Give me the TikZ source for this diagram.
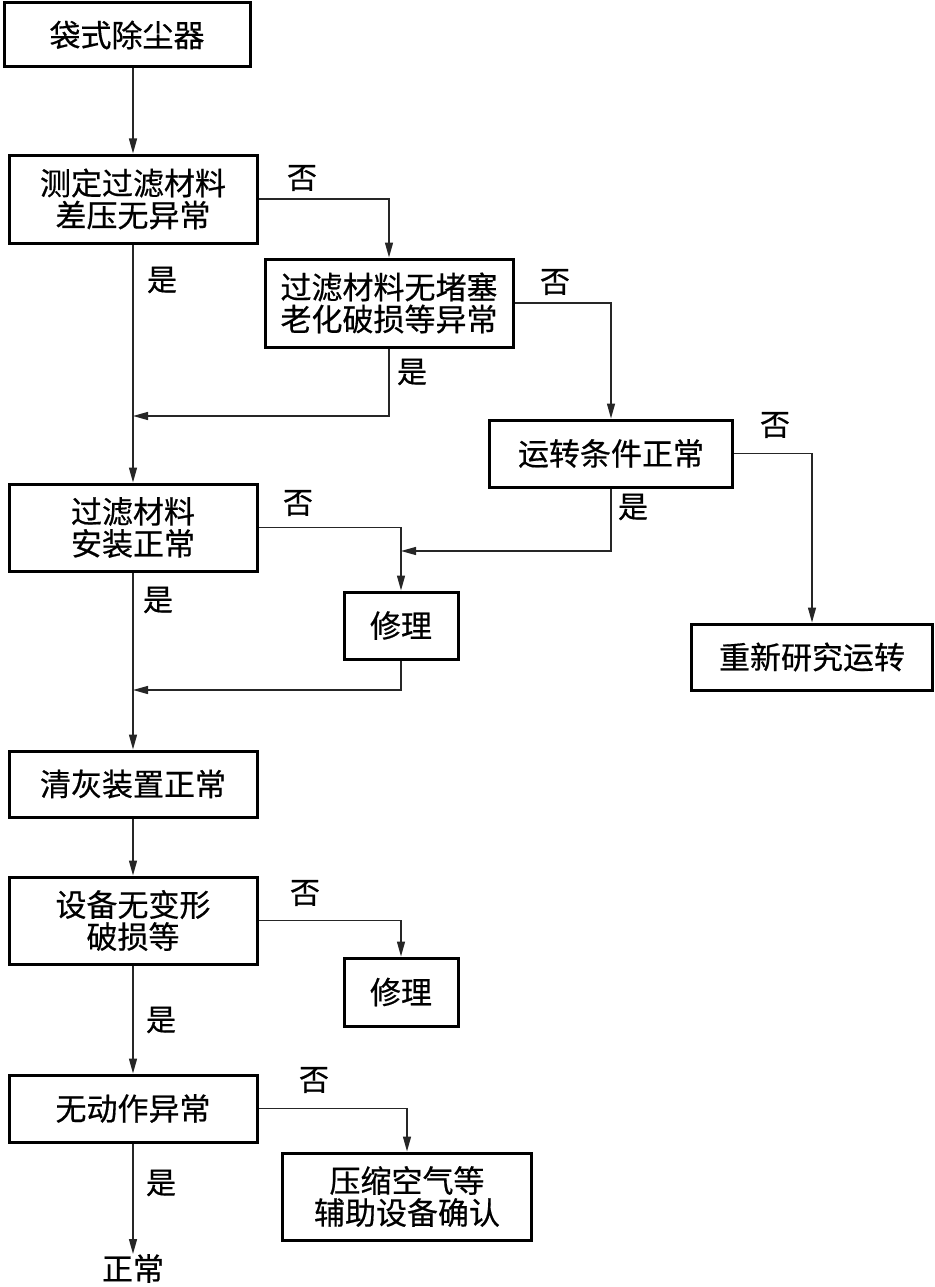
\documentclass[tikz,border=0pt]{standalone}
\usepackage{fontspec}
\newfontfamily\cjk[FakeBold=0.5]{Noto Sans CJK SC}
\usetikzlibrary{arrows.meta}
\begin{document}
\begin{tikzpicture}[x=1pt,y=-1pt,
  box/.style={draw=black, line width=3pt, inner sep=0pt, align=center,
    font=\cjk\fontsize{31}{32}\selectfont, text=black},
  conn/.style={line width=1.4pt, draw=black!85},
  arr/.style={conn, -{Stealth[length=15pt,width=8pt,inset=0pt]}},
  lbl/.style={font=\cjk\fontsize{30}{30}\selectfont, text=black, inner sep=0pt}]
\useasboundingbox (0,0) rectangle (934,1287);
% boxes
\node[box, minimum width=246pt, minimum height=64pt] (b1) at (127,35) {袋式除尘器};
\node[box, minimum width=248pt, minimum height=88pt] (b2) at (133,199) {测定过滤材料\\差压无异常};
\node[box, minimum width=248pt, minimum height=88pt] (b3) at (389,303) {过滤材料无堵塞\\老化破损等异常};
\node[box, minimum width=243pt, minimum height=67pt] (b4) at (611,453.5) {运转条件正常};
\node[box, minimum width=248pt, minimum height=87pt] (b5) at (133,527.5) {过滤材料\\安装正常};
\node[box, minimum width=114pt, minimum height=67pt] (b6) at (401,625.5) {修理};
\node[box, minimum width=241pt, minimum height=66pt] (b7) at (812,657) {重新研究运转};
\node[box, minimum width=248pt, minimum height=66pt] (b8) at (133,784) {清灰装置正常};
\node[box, minimum width=248pt, minimum height=87pt] (b9) at (133,920.5) {设备无变形\\破损等};
\node[box, minimum width=114pt, minimum height=68pt] (b10) at (401,992) {修理};
\node[box, minimum width=249pt, minimum height=87pt] (b12) at (407,1196.5) {压缩空气等\\辅助设备确认};
\node[box, minimum width=248pt, minimum height=67pt] (b11) at (133,1108.5) {无动作异常};
\node[lbl, font=\cjk\fontsize{31}{31}\selectfont, anchor=north] (e) at (133,1254) {正常};
% junction coordinates
\coordinate (j1) at (133,416);
\coordinate (j2) at (401,551);
\coordinate (j3) at (133,690);
% connectors
\draw[arr] (b2.north |- b1.south) -- (b2.north);
\draw[arr] (b2.east) -| (b3.north);
\draw[arr] (b2.south) -- (b5.north);
\draw[arr] (b3.south) |- (j1);
\draw[arr] (b3.east) -| (b4.north);
\draw[arr] (b4.south) |- (j2);
\draw[arr] (b4.east) -| (b7.north);
\draw[arr] (b5.east) -| (b6.north);
\draw[arr] (b6.south) |- (j3);
\draw[arr] (b5.south) -- (b8.north);
\draw[arr] (b8.south) -- (b9.north);
\draw[arr] (b9.east) -| (b10.north);
\draw[arr] (b9.south) -- (b11.north);
\draw[arr] (b11.east) -| (b12.north);
\draw[arr] (b11.south) -- (e.north);
% labels
\node[lbl] (l1) at (302,178) {否};
\node[lbl] (l2) at (162,280) {是};
\node[lbl] (l3) at (555,282) {否};
\node[lbl] (l4) at (412,372) {是};
\node[lbl] (l5) at (775,425) {否};
\node[lbl] (l6) at (633,507) {是};
\node[lbl] (l7) at (298,503) {否};
\node[lbl] (l8) at (158,600) {是};
\node[lbl] (l9) at (305,893) {否};
\node[lbl] (l10) at (161,1020) {是};
\node[lbl] (l11) at (314,1080) {否};
\node[lbl] (l12) at (161,1183) {是};
\end{tikzpicture}
\end{document}
